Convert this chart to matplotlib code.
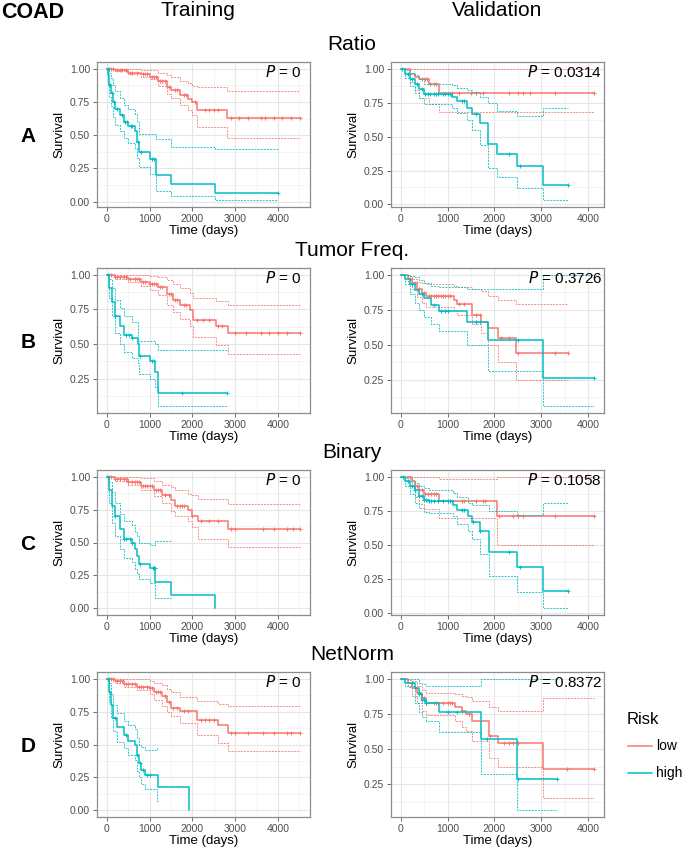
import numpy as np
import matplotlib
matplotlib.use("Agg")
import matplotlib.pyplot as plt
from matplotlib.ticker import MultipleLocator

plt.rcParams['font.family'] = ['Liberation Sans', 'DejaVu Sans']

low_col = '#F8766D'
high_col = '#00BFC4'
nan = np.nan

#------------ data: A  Ratio --------------------
A_tr_low_t  = [0, 200, 500, 800, 1000, 1200, 1400, 1500, 1700, 1900, 2000, 2100, 2800, 4520]
A_tr_low_s  = [1.0, 0.99, 0.97, 0.96, 0.94, 0.91, 0.86, 0.84, 0.80, 0.77, 0.75, 0.69, 0.63, 0.63]
A_tr_low_hi = [1.0, 1.0, 1.0, 0.99, 0.99, 0.97, 0.95, 0.94, 0.91, 0.89, 0.87, 0.86, 0.83, 0.83]
A_tr_low_lo = [1.0, 0.98, 0.96, 0.94, 0.92, 0.87, 0.81, 0.78, 0.73, 0.69, 0.65, 0.56, 0.48, 0.48]
A_tr_low_c  = [50, 100, 150, 250, 300, 350, 450, 550, 600, 700, 850, 900, 950, 1050, 1100, 1150,
               1250, 1300, 1350, 1450, 1600, 1650, 1800, 1850, 2050, 2300, 2400, 2500, 2600,
               2900, 3100, 3300, 3600, 3700, 3900, 4100, 4300, 4520]
A_tr_high_t  = [0, 30, 60, 100, 150, 200, 300, 400, 500, 650, 700, 750, 1000, 1150, 1500, 2530, 4000]
A_tr_high_s  = [1.0, 0.95, 0.88, 0.82, 0.75, 0.70, 0.65, 0.60, 0.57, 0.53, 0.45, 0.37, 0.32, 0.20, 0.13, 0.065, 0.065]
A_tr_high_hi = [1.0, 1.0, 0.97, 0.93, 0.88, 0.83, 0.78, 0.73, 0.70, 0.66, 0.60, 0.51, 0.51, 0.47, 0.41, 0.395, 0.395]
A_tr_high_lo = [1.0, 0.88, 0.79, 0.72, 0.64, 0.58, 0.53, 0.48, 0.44, 0.40, 0.33, 0.26, 0.21, 0.08, 0.04, 0.01, 0.01]
A_tr_high_c  = [20, 80, 130, 180, 250, 350, 420, 470, 560, 600, 720, 800, 1050, 1100, 4000]

A_va_low_t  = [0, 200, 300, 400, 600, 820, 4130]
A_va_low_s  = [1.0, 0.96, 0.94, 0.92, 0.89, 0.82, 0.82]
A_va_low_hi = [1.0, 1.0, 1.0, 1.0, 1.0, 1.0, 1.0]
A_va_low_lo = [1.0, 0.90, 0.84, 0.78, 0.74, 0.68, 0.68]
A_va_low_c  = [450, 520, 560, 620, 700, 750, 1100, 1250, 1500, 1600, 1750, 2300, 2500, 2600,
               2750, 3300, 4130]
A_va_high_t  = [0, 100, 200, 300, 400, 500, 1100, 1200, 1420, 1520, 1700, 1870, 2050, 2480, 3040, 3570]
A_va_high_s  = [1.0, 0.96, 0.92, 0.89, 0.85, 0.815, 0.79, 0.76, 0.71, 0.665, 0.60, 0.445, 0.375, 0.28, 0.14, 0.14]
A_va_high_hi = [1.0, 0.99, 0.97, 0.95, 0.92, 0.89, 0.88, 0.86, 0.84, 0.83, 0.79, 0.75, 0.69, 0.65, 0.71, 0.71]
A_va_high_lo = [1.0, 0.93, 0.87, 0.82, 0.78, 0.74, 0.71, 0.67, 0.62, 0.55, 0.44, 0.27, 0.20, 0.12, 0.03, 0.03]
A_va_high_c  = [30, 150, 250, 350, 450, 520, 580, 620, 700, 760, 800, 900, 950, 1000, 1060,
                1300, 1350, 1600, 2300, 2550, 3570]

#------------ data: B  Tumor Freq. --------------------
B_tr_low_t  = [0, 200, 500, 800, 1000, 1200, 1400, 1550, 1700, 1950, 2010, 2550, 2830, 4520]
B_tr_low_s  = [1.0, 0.98, 0.97, 0.95, 0.93, 0.91, 0.86, 0.82, 0.78, 0.745, 0.67, 0.63, 0.58, 0.58]
B_tr_low_hi = [1.0, 1.0, 1.0, 1.0, 0.99, 0.98, 0.96, 0.93, 0.90, 0.87, 0.83, 0.81, 0.78, 0.78]
B_tr_low_lo = [1.0, 0.97, 0.95, 0.92, 0.89, 0.85, 0.78, 0.73, 0.68, 0.63, 0.55, 0.49, 0.43, 0.43]
B_tr_low_c  = [50, 100, 200, 250, 300, 400, 450, 550, 650, 700, 750, 850, 900, 1000, 1050, 1100,
               1150, 1250, 1300, 1450, 1500, 1600, 1650, 1800, 1850, 2100, 2250, 2400, 2600,
               2700, 3000, 3250, 3600, 3800, 4000, 4200, 4520]
B_tr_high_t  = [0, 50, 120, 200, 300, 400, 600, 720, 750, 1000, 1130, 1190, 2800]
B_tr_high_s  = [1.0, 0.90, 0.80, 0.70, 0.63, 0.565, 0.54, 0.50, 0.41, 0.375, 0.30, 0.15, 0.15]
B_tr_high_hi = [1.0, 0.97, 0.90, 0.82, 0.76, 0.70, 0.66, 0.52, 0.52, 0.52, 0.50, 0.46, 0.46]
B_tr_high_lo = [1.0, 0.83, 0.70, 0.58, 0.50, 0.44, 0.40, 0.36, 0.28, 0.25, 0.19, 0.05, 0.05]
B_tr_high_c  = [30, 200, 450, 520, 600, 780, 1050, 1100, 1750, 2800]

B_va_low_t  = [0, 150, 250, 350, 450, 550, 1130, 1200, 1520, 1720, 1860, 2070, 2470, 3570]
B_va_low_s  = [1.0, 0.97, 0.94, 0.90, 0.87, 0.85, 0.82, 0.79, 0.71, 0.66, 0.62, 0.55, 0.44, 0.44]
B_va_low_hi = [1.0, 0.99, 0.97, 0.95, 0.94, 0.93, 0.92, 0.91, 0.90, 0.88, 0.85, 0.82, 0.79, 0.79]
B_va_low_lo = [1.0, 0.94, 0.90, 0.84, 0.80, 0.77, 0.74, 0.71, 0.65, 0.58, 0.50, 0.38, 0.25, 0.25]
B_va_low_c  = [200, 300, 400, 500, 600, 650, 700, 750, 800, 850, 900, 950, 1000, 1050, 1250,
               1350, 1600, 1700, 2150, 2300, 2500, 3300, 3570]
B_va_high_t  = [0, 100, 200, 300, 400, 500, 650, 820, 1420, 1870, 3040, 4130]
B_va_high_s  = [1.0, 0.97, 0.93, 0.89, 0.86, 0.83, 0.78, 0.74, 0.66, 0.53, 0.26, 0.26]
B_va_high_hi = [1.0, 1.0, 0.99, 0.98, 0.96, 0.94, 0.92, 0.91, 0.90, 0.90, 1.0, 1.0]
B_va_high_lo = [1.0, 0.93, 0.86, 0.80, 0.75, 0.70, 0.65, 0.60, 0.50, 0.31, 0.06, 0.06]
B_va_high_c  = [250, 450, 700, 850, 950, 1000, 1600, 1700, 2500, 4130]

#------------ data: C  Binary --------------------
C_tr_low_t  = [0, 200, 500, 800, 1100, 1300, 1500, 1600, 1900, 2000, 2130, 2830, 4520]
C_tr_low_s  = [1.0, 0.98, 0.96, 0.93, 0.90, 0.86, 0.82, 0.78, 0.75, 0.70, 0.66, 0.605, 0.605]
C_tr_low_hi = [1.0, 1.0, 1.0, 0.99, 0.97, 0.94, 0.92, 0.90, 0.87, 0.86, 0.83, 0.79, 0.79]
C_tr_low_lo = [1.0, 0.97, 0.94, 0.90, 0.85, 0.80, 0.74, 0.70, 0.66, 0.62, 0.53, 0.465, 0.465]
C_tr_low_c  = [50, 100, 200, 250, 300, 400, 450, 500, 600, 650, 700, 750, 850, 900, 950, 1000,
               1050, 1150, 1200, 1250, 1350, 1450, 1650, 1700, 1750, 1800, 2000, 2200, 2400,
               2600, 2900, 3000, 3650, 3900, 4200, 4350, 4520]
C_tr_high_t  = [0, 50, 120, 200, 300, 400, 600, 650, 700, 750, 1000, 1130, 1510, 2540]
C_tr_high_s  = [1.0, 0.90, 0.78, 0.70, 0.60, 0.525, 0.50, 0.45, 0.40, 0.335, 0.31, 0.20, 0.10, 0.0]
C_tr_high_hi = [1.0, 0.96, 0.88, 0.80, 0.72, 0.66, 0.63, 0.58, 0.55, 0.50, 0.48, 0.51, nan, nan]
C_tr_high_lo = [1.0, 0.80, 0.65, 0.55, 0.45, 0.38, 0.35, 0.30, 0.26, 0.22, 0.19, 0.08, nan, nan]
C_tr_high_c  = [30, 200, 400, 450, 550, 600, 780, 1080, 1100, 1120]

C_va_low_t  = [0, 250, 300, 400, 500, 820, 2060, 4130]
C_va_low_s  = [1.0, 0.97, 0.93, 0.90, 0.87, 0.82, 0.71, 0.71]
C_va_low_hi = [1.0, 1.0, 1.0, 1.0, 1.0, 0.98, 1.0, 1.0]
C_va_low_lo = [1.0, 0.95, 0.85, 0.80, 0.76, 0.70, 0.50, 0.50]
C_va_low_c  = [300, 350, 450, 520, 580, 650, 700, 750, 1000, 1100, 1300, 1350, 1600, 1750,
               1800, 2100, 2400, 2500, 2600, 3300, 4130]
C_va_high_t  = [0, 100, 200, 300, 400, 500, 600, 1120, 1200, 1440, 1520, 1700, 1880, 2480, 3040, 3570]
C_va_high_s  = [1.0, 0.97, 0.93, 0.90, 0.86, 0.83, 0.82, 0.79, 0.755, 0.71, 0.665, 0.60, 0.445, 0.335, 0.165, 0.165]
C_va_high_hi = [1.0, 0.99, 0.97, 0.95, 0.93, 0.92, 0.90, 0.88, 0.85, 0.81, 0.79, 0.79, 0.75, 0.72, 0.81, 0.81]
C_va_high_lo = [1.0, 0.93, 0.87, 0.81, 0.77, 0.74, 0.73, 0.71, 0.65, 0.60, 0.54, 0.43, 0.27, 0.155, 0.035, 0.035]
C_va_high_c  = [50, 150, 250, 300, 400, 450, 500, 550, 600, 650, 700, 800, 900, 1000, 1050,
                1300, 1350, 1550, 1700, 2300, 2550, 3570]

#------------ data: D  NetNorm --------------------
D_tr_low_t  = [0, 200, 400, 700, 1000, 1100, 1300, 1400, 1500, 1700, 2100, 2600, 2830, 4520]
D_tr_low_s  = [1.0, 0.98, 0.96, 0.94, 0.93, 0.90, 0.87, 0.82, 0.78, 0.755, 0.685, 0.65, 0.59, 0.59]
D_tr_low_hi = [1.0, 1.0, 1.0, 1.0, 0.98, 0.97, 0.95, 0.92, 0.90, 0.86, 0.83, 0.81, 0.79, 0.79]
D_tr_low_lo = [1.0, 0.97, 0.94, 0.91, 0.88, 0.84, 0.79, 0.75, 0.72, 0.66, 0.57, 0.51, 0.45, 0.45]
D_tr_low_c  = [50, 100, 150, 250, 300, 350, 450, 500, 600, 650, 750, 800, 850, 950, 1000, 1050,
               1150, 1200, 1250, 1350, 1450, 1550, 1650, 1800, 1900, 2200, 2300, 2400, 2500,
               2900, 3000, 3300, 3650, 3900, 4200, 4300, 4520]
D_tr_high_t  = [0, 50, 100, 150, 250, 400, 500, 650, 700, 750, 800, 900, 1170, 1200, 1920]
D_tr_high_s  = [1.0, 0.90, 0.80, 0.70, 0.63, 0.57, 0.53, 0.50, 0.42, 0.36, 0.31, 0.27, 0.27, 0.18, 0.0]
D_tr_high_hi = [1.0, 0.97, 0.88, 0.80, 0.74, 0.68, 0.65, 0.62, 0.55, 0.50, 0.48, 0.46, 0.47, nan, nan]
D_tr_high_lo = [1.0, 0.82, 0.70, 0.60, 0.52, 0.47, 0.42, 0.38, 0.30, 0.25, 0.20, 0.16, 0.07, nan, nan]
D_tr_high_c  = [30, 200, 450, 700, 780, 850, 950, 1000]

D_va_low_t  = [0, 150, 250, 350, 450, 550, 1150, 1300, 1400, 1530, 1880, 2070, 3040, 4130]
D_va_low_s  = [1.0, 0.97, 0.93, 0.90, 0.86, 0.83, 0.80, 0.77, 0.75, 0.70, 0.59, 0.54, 0.36, 0.36]
D_va_low_hi = [1.0, 0.99, 0.98, 0.95, 0.92, 0.90, 0.89, 0.88, 0.87, 0.84, 0.80, 0.77, 0.86, 0.86]
D_va_low_lo = [1.0, 0.94, 0.88, 0.83, 0.77, 0.745, 0.70, 0.66, 0.63, 0.56, 0.44, 0.375, 0.15, 0.15]
D_va_low_c  = [300, 400, 450, 500, 550, 700, 750, 800, 900, 1000, 1050, 1100, 1300, 1450,
               1900, 2200, 2300, 2400, 2500, 3550, 4130]
D_va_high_t  = [0, 100, 300, 400, 450, 550, 820, 1710, 2480, 3330]
D_va_high_s  = [1.0, 0.97, 0.93, 0.89, 0.85, 0.83, 0.765, 0.575, 0.29, 0.29]
D_va_high_hi = [1.0, 1.0, 1.0, 0.97, 0.96, 0.95, 0.95, 1.0, 1.0, 1.0]
D_va_high_lo = [1.0, 0.95, 0.83, 0.76, 0.73, 0.70, 0.62, 0.32, 0.065, 0.065]
D_va_high_c  = [250, 400, 450, 500, 550, 1000, 1200, 1850, 2500, 3330]

row_titles = ['Ratio', 'Tumor Freq.', 'Binary', 'NetNorm']
row_letters = ['A', 'B', 'C', 'D']
p_train = ['0', '0', '0', '0']
p_valid = ['0.0314', '0.3726', '0.1058', '0.8372']

panels = [
    [(A_tr_low_t, A_tr_low_s, A_tr_low_hi, A_tr_low_lo, A_tr_low_c),
     (A_tr_high_t, A_tr_high_s, A_tr_high_hi, A_tr_high_lo, A_tr_high_c),
     (A_va_low_t, A_va_low_s, A_va_low_hi, A_va_low_lo, A_va_low_c),
     (A_va_high_t, A_va_high_s, A_va_high_hi, A_va_high_lo, A_va_high_c)],
    [(B_tr_low_t, B_tr_low_s, B_tr_low_hi, B_tr_low_lo, B_tr_low_c),
     (B_tr_high_t, B_tr_high_s, B_tr_high_hi, B_tr_high_lo, B_tr_high_c),
     (B_va_low_t, B_va_low_s, B_va_low_hi, B_va_low_lo, B_va_low_c),
     (B_va_high_t, B_va_high_s, B_va_high_hi, B_va_high_lo, B_va_high_c)],
    [(C_tr_low_t, C_tr_low_s, C_tr_low_hi, C_tr_low_lo, C_tr_low_c),
     (C_tr_high_t, C_tr_high_s, C_tr_high_hi, C_tr_high_lo, C_tr_high_c),
     (C_va_low_t, C_va_low_s, C_va_low_hi, C_va_low_lo, C_va_low_c),
     (C_va_high_t, C_va_high_s, C_va_high_hi, C_va_high_lo, C_va_high_c)],
    [(D_tr_low_t, D_tr_low_s, D_tr_low_hi, D_tr_low_lo, D_tr_low_c),
     (D_tr_high_t, D_tr_high_s, D_tr_high_hi, D_tr_high_lo, D_tr_high_c),
     (D_va_low_t, D_va_low_s, D_va_low_hi, D_va_low_lo, D_va_low_c),
     (D_va_high_t, D_va_high_s, D_va_high_hi, D_va_high_lo, D_va_high_c)],
]


def km_panel(ax, curves, pval, pfrac):
    # curves: (low, high) tuples of t, s, hi, lo, censor
    tmax, ymin = 0, 1
    for (t, s, hi, lo, cens), col in zip(curves, [low_col, high_col]):
        t = np.array(t, float)
        s = np.array(s, float)
        ax.step(t, hi, where='post', color=col, lw=0.7, ls=(0, (2, 1.2)), alpha=0.85)
        ax.step(t, lo, where='post', color=col, lw=0.7, ls=(0, (2, 1.2)), alpha=0.85)
        ax.step(t, s, where='post', color=col, lw=1.1)
        idx = np.searchsorted(t, cens, side='right') - 1
        ax.plot(cens, s[idx], ls='none', marker='+', color=col, ms=3.5, mew=0.7)
        tmax = max(tmax, t.max())
        ymin = min(ymin, np.nanmin(s), np.nanmin(lo))
    ax.set_xlim(-0.05 * tmax, 1.05 * tmax)
    yr = 1 - ymin
    ax.set_ylim(ymin - 0.05 * yr, 1 + 0.05 * yr)
    ax.xaxis.set_major_locator(MultipleLocator(1000))
    ax.xaxis.set_minor_locator(MultipleLocator(500))
    ax.yaxis.set_major_locator(MultipleLocator(0.25))
    ax.yaxis.set_minor_locator(MultipleLocator(0.125))
    ax.yaxis.set_major_formatter(lambda v, p: '%.2f' % v)
    ax.grid(which='major', color='#E6E6E6', lw=0.8)
    ax.grid(which='minor', color='#F0F0F0', lw=0.5)
    ax.set_axisbelow(True)
    ax.tick_params(which='major', labelsize=7.5, labelcolor='#4D4D4D', color='#555555',
                   length=3, width=0.6, pad=2)
    ax.tick_params(which='minor', length=0)
    for sp in ax.spines.values():
        sp.set_color('#8C8C8C')
        sp.set_linewidth(0.9)
    ax.set_xlabel('Time (days)', fontsize=9.5, labelpad=1)
    ax.set_ylabel('Survival', fontsize=9.5, labelpad=3)
    ax.text(pfrac, 0.93, '$P$ = ' + pval, transform=ax.transAxes, ha='right', va='center',
            fontsize=11)


fig = plt.figure(figsize=(6.85, 8.5), dpi=100)
W, H = 685, 850
row_tops = [62, 268, 470, 672]
row_h = 145
col_left = [97, 391]
col_w = 213

for r in range(4):
    top = row_tops[r]
    for c in range(2):
        ax = fig.add_axes([col_left[c] / W, 1 - (top + row_h) / H, col_w / W, row_h / H])
        if c == 0:
            km_panel(ax, panels[r][0:2], p_train[r], 0.962)
        else:
            km_panel(ax, panels[r][2:4], p_valid[r], 0.99)
    fig.text(352 / W, 1 - (top - 18) / H, row_titles[r], ha='center', va='center', fontsize=15)
    fig.text(28 / W, 1 - (top + 75) / H, row_letters[r], ha='center', va='center',
             fontsize=15, fontweight='bold')

fig.text(0.002, 1 - 12 / H, 'COAD', ha='left', va='center', fontsize=15.5, fontweight='bold')
fig.text(198 / W, 1 - 11 / H, 'Training', ha='center', va='center', fontsize=15)
fig.text(497 / W, 1 - 11 / H, 'Validation', ha='center', va='center', fontsize=15)

# legend
fig.text(627 / W, 1 - 719 / H, 'Risk', ha='left', va='center', fontsize=12)
for lab, col, yy in [('low', low_col, 746), ('high', high_col, 773)]:
    fig.add_artist(plt.Line2D([628 / W, 652 / W], [1 - yy / H, 1 - yy / H], color=col, lw=1.1))
    fig.text(656 / W, 1 - yy / H, lab, ha='left', va='center', fontsize=10)

plt.savefig('out.png', dpi=100)
